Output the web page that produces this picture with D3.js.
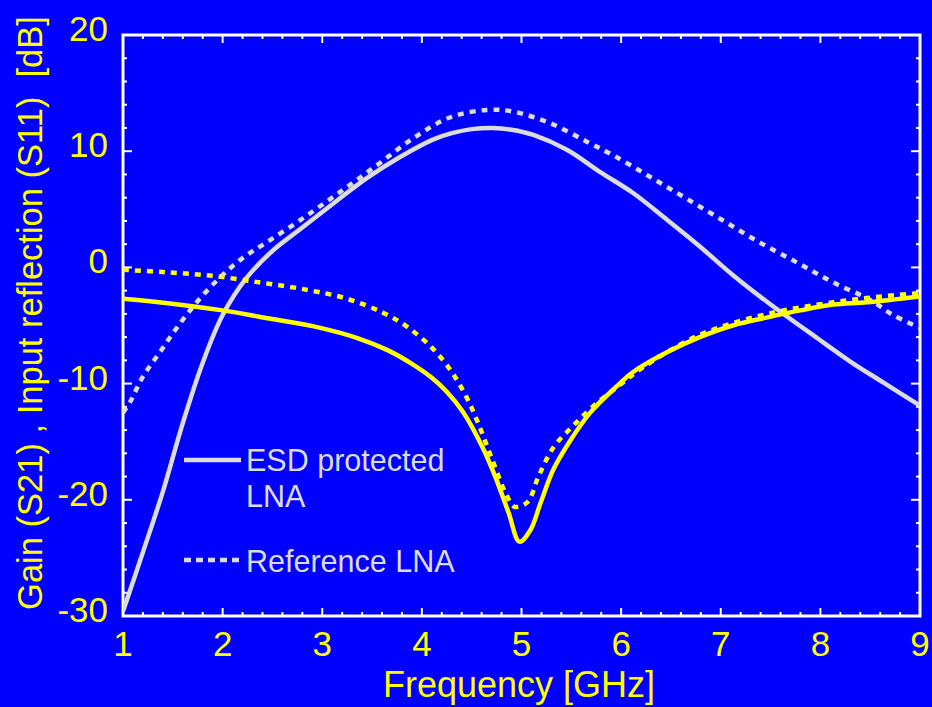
<!DOCTYPE html>
<html>
<head>
<meta charset="utf-8">
<script src="https://cdn.jsdelivr.net/npm/d3@7"></script>
<style>
    body { margin: 0; background: #0000ff; }
    svg { display: block; font-family: "Liberation Sans", Arial, sans-serif; }
</style>
</head>
<body>
<div class="container"></div>
<script>
const width = 932;
const height = 707;
const margin = {left: 123, right: 12, top: 35, bottom: 91};

// ESD protected LNA, gain S21
const esdGainFreq = [1.0, 1.2, 1.4, 1.6, 1.8, 2.0, 2.24, 2.51, 2.78, 3.11, 3.45, 3.78, 4.11, 4.3, 4.5, 4.71, 4.9, 5.12, 5.46, 5.79, 6.12, 6.46, 6.79, 7.12, 7.47, 7.97, 8.3, 8.63, 9.0];
const esdGain = [-29.6, -24.5, -19.3, -13.4, -8.2, -4.1, -0.9, 1.5, 3.3, 5.5, 7.7, 9.5, 11.0, 11.55, 11.9, 12.0, 11.85, 11.4, 10.1, 8.2, 6.4, 4.1, 1.8, -0.65, -3.0, -6.1, -8.1, -9.9, -11.9];

// Reference LNA, gain S21
const refGainFreq = [1.0, 1.07, 1.2, 1.37, 1.54, 1.74, 1.97, 2.2, 2.45, 2.81, 3.18, 3.55, 3.91, 4.28, 4.65, 4.92, 5.29, 5.66, 5.91, 6.27, 6.64, 7.01, 7.38, 7.77, 8.13, 8.5, 8.73, 9.0];
const refGain = [-12.5, -11.6, -9.4, -7.3, -5.2, -3.0, -0.9, 0.8, 2.2, 4.25, 6.5, 8.8, 11.1, 12.9, 13.55, 13.4, 12.4, 10.8, 9.7, 7.9, 6.0, 4.1, 2.2, 0.4, -1.3, -2.8, -4.1, -5.2];

// ESD protected LNA, input reflection S11
const esdReflFreq = [1.0, 1.47, 2.0, 2.47, 2.98, 3.36, 3.65, 3.9, 4.1, 4.25, 4.41, 4.61, 4.75, 4.87, 4.98, 5.09, 5.19, 5.32, 5.49, 5.69, 5.96, 6.12, 6.46, 6.79, 7.12, 7.47, 7.8, 8.13, 8.47, 9.0];
const esdRefl = [-2.7, -3.1, -3.7, -4.4, -5.2, -6.1, -7.1, -8.3, -9.5, -10.7, -12.4, -15.5, -18.3, -21.1, -23.6, -22.6, -20.3, -17.4, -14.9, -12.5, -10.2, -9.0, -7.3, -6.0, -5.0, -4.3, -3.7, -3.2, -3.0, -2.5];

// Reference LNA, input reflection S11
const refReflFreq = [1.0, 1.4, 1.87, 2.38, 2.86, 3.25, 3.61, 3.85, 4.1, 4.3, 4.45, 4.56, 4.7, 4.85, 4.93, 5.06, 5.17, 5.32, 5.51, 5.74, 5.99, 6.22, 6.79, 7.47, 8.13, 8.5, 9.0];
const refRefl = [-0.2, -0.4, -0.7, -1.3, -1.95, -2.7, -3.9, -5.1, -6.9, -9.0, -11.2, -13.3, -16.4, -19.6, -20.6, -20.2, -18.0, -15.5, -13.7, -11.8, -10.1, -8.6, -5.8, -4.0, -3.0, -2.6, -2.2];

const xTicks = [1, 2, 3, 4, 5, 6, 7, 8, 9];
const yTicks = [-30, -20, -10, 0, 10, 20];
const xTitle = "Frequency [GHz]";
const yTitle = "Gain (S21) , Input reflection (S11)  [dB]";
const legendLabels = [["ESD protected", "LNA"], ["Reference LNA"]];

const gray = "#dcdcdc";
const yellow = "#ffff00";

const svg = d3.select(".container")
    .append("svg")
    .attr("width", width)
    .attr("height", height);

svg.append("rect")
    .attr("width", width)
    .attr("height", height)
    .attr("fill", "#0000ff");

const xScale = d3.scaleLinear()
    .domain([1, 9])
    .range([margin.left, width - margin.right]);

const yScale = d3.scaleLinear()
    .domain([-30, 20])
    .range([height - margin.bottom, margin.top]);

const x0 = xScale.range()[0], x1 = xScale.range()[1];
const y0 = yScale.range()[1], y1 = yScale.range()[0];

svg.append("defs").append("clipPath")
    .attr("id", "plot")
    .append("rect")
    .attr("x", x0)
    .attr("y", y0)
    .attr("width", x1 - x0)
    .attr("height", y1 - y0);

// minor + major ticks on all four sides, pointing in
const xMinor = d3.range(1, 9.001, 0.2);
const yMinor = d3.range(-30, 20.001, 2);

const ticks = svg.append("g")
    .attr("stroke", "#ffffff")
    .attr("stroke-width", 2);

xMinor.forEach(function(v) {
    const major = Math.abs(v - Math.round(v)) < 0.01;
    const len = major ? 8 : 4;
    const x = xScale(v);
    ticks.append("line").attr("x1", x).attr("x2", x).attr("y1", y1).attr("y2", y1 - len);
    ticks.append("line").attr("x1", x).attr("x2", x).attr("y1", y0).attr("y2", y0 + len);
});

yMinor.forEach(function(v) {
    const major = Math.abs(v % 10) < 0.01;
    const len = major ? 9 : 4;
    const y = yScale(v);
    ticks.append("line").attr("x1", x0).attr("x2", x0 + len).attr("y1", y).attr("y2", y);
    ticks.append("line").attr("x1", x1).attr("x2", x1 - len).attr("y1", y).attr("y2", y);
});

svg.append("rect")
    .attr("x", x0)
    .attr("y", y0)
    .attr("width", x1 - x0)
    .attr("height", y1 - y0)
    .attr("fill", "none")
    .attr("stroke", "#ffffff")
    .attr("stroke-width", 3);

// tick labels
svg.append("g")
    .selectAll("text")
    .data(xTicks)
    .enter()
    .append("text")
    .attr("x", d => xScale(d))
    .attr("y", y1 + 40)
    .attr("text-anchor", "middle")
    .attr("fill", yellow)
    .attr("font-size", 35)
    .text(d => d);

svg.append("g")
    .selectAll("text")
    .data(yTicks)
    .enter()
    .append("text")
    .attr("x", x0 - 15)
    .attr("y", d => yScale(d) + 6)
    .attr("text-anchor", "end")
    .attr("fill", yellow)
    .attr("font-size", 35)
    .text(d => d);

// axis titles
svg.append("text")
    .attr("x", 519)
    .attr("y", 697)
    .attr("text-anchor", "middle")
    .attr("fill", yellow)
    .attr("font-size", 36)
    .text(xTitle);

svg.append("text")
    .attr("transform", "translate(42,313) rotate(-90)")
    .attr("text-anchor", "middle")
    .attr("fill", yellow)
    .attr("font-size", 34.5)
    .style("white-space", "pre")
    .text(yTitle);

// curves
const line = d3.line()
    .x(d => xScale(d[0]))
    .y(d => yScale(d[1]))
    .curve(d3.curveCatmullRom.alpha(0.5));

const series = [
    {f: esdGainFreq, v: esdGain, color: gray, dash: null},
    {f: refGainFreq, v: refGain, color: gray, dash: "6,6"},
    {f: refReflFreq, v: refRefl, color: yellow, dash: "6,6"},
    {f: esdReflFreq, v: esdRefl, color: yellow, dash: null}
];

const plot = svg.append("g").attr("clip-path", "url(#plot)");

series.forEach(function(s) {
    const pts = s.f.map((f, i) => [f, s.v[i]]);
    plot.append("path")
        .datum(pts)
        .attr("d", line)
        .attr("fill", "none")
        .attr("stroke", s.color)
        .attr("stroke-width", 4.5)
        .attr("stroke-dasharray", s.dash);
});

// legend
const legend = svg.append("g");

legend.append("line")
    .attr("x1", 184).attr("x2", 241)
    .attr("y1", 460).attr("y2", 460)
    .attr("stroke", gray)
    .attr("stroke-width", 4.5);

legend.append("line")
    .attr("x1", 184).attr("x2", 241)
    .attr("y1", 560).attr("y2", 560)
    .attr("stroke", gray)
    .attr("stroke-width", 4.5)
    .attr("stroke-dasharray", "7,5");

const legendText = [
    [legendLabels[0][0], 471],
    [legendLabels[0][1], 507],
    [legendLabels[1][0], 572]
];

legend.selectAll("text")
    .data(legendText)
    .enter()
    .append("text")
    .attr("x", 246)
    .attr("y", d => d[1])
    .attr("fill", gray)
    .attr("font-size", 30.5)
    .text(d => d[0]);
</script>
</body>
</html>
